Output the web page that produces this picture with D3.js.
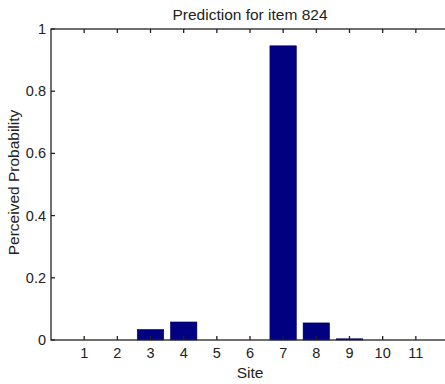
<!DOCTYPE html>
<html><head><meta charset="utf-8">
<script src="https://cdn.jsdelivr.net/npm/d3@7"></script>
<style>body{margin:0;background:#fff}svg{display:block}</style>
</head><body>
<script>
const sites = [1,2,3,4,5,6,7,8,9,10,11];
const probs = [0,0,0.034,0.058,0,0,0.946,0.055,0.004,0,0];
const yTicks = [0,0.2,0.4,0.6,0.8,1];
const yTickLabels = ["0","0.2","0.4","0.6","0.8","1"];
const title = "Prediction for item 824";

const W=445,H=384;
const L=51,R=449,T=29,B=340;
const svg=d3.select("body").append("svg").attr("width",W).attr("height",H);
const x=d3.scaleLinear().domain([0,12]).range([L,R]);
const y=d3.scaleLinear().domain([0,1]).range([B,T]);
const font="Liberation Sans, Arial, sans-serif";
const bw=(x(1)-x(0))*0.8;

svg.append("g").selectAll("rect").data(sites.filter((d,i)=>probs[i]>0)).join("rect")
 .attr("x",d=>x(d)-bw/2).attr("width",bw)
 .attr("y",d=>y(probs[d-1])).attr("height",d=>y(0)-y(probs[d-1]))
 .attr("fill","#000080").attr("stroke","#00005a").attr("stroke-width",0.5);

const ax=svg.append("g").attr("fill","none").attr("stroke","#222").attr("stroke-width",1.3);
ax.append("rect").attr("x",L).attr("y",T).attr("width",R-L).attr("height",B-T);
const tl=4;
sites.forEach(s=>{
  ax.append("line").attr("x1",x(s)).attr("x2",x(s)).attr("y1",B).attr("y2",B-tl);
  ax.append("line").attr("x1",x(s)).attr("x2",x(s)).attr("y1",T).attr("y2",T+tl);
});
yTicks.forEach(v=>{
  ax.append("line").attr("x1",L).attr("x2",L+tl).attr("y1",y(v)).attr("y2",y(v));
  ax.append("line").attr("x1",R).attr("x2",R-tl).attr("y1",y(v)).attr("y2",y(v));
});

svg.append("g").selectAll("text").data(sites).join("text")
 .attr("x",d=>x(d)).attr("y",B+18).attr("text-anchor","middle")
 .attr("font-family",font).attr("font-size",14.5).attr("fill","#222").text(d=>d);
svg.append("g").selectAll("text").data(yTicks).join("text")
 .attr("x",L-5).attr("y",d=>y(d)+5).attr("text-anchor","end")
 .attr("font-family",font).attr("font-size",14.5).attr("fill","#222").text((d,i)=>yTickLabels[i]);

svg.append("text").attr("x",(L+R)/2).attr("y",20).attr("text-anchor","middle")
 .attr("font-family",font).attr("font-size",15.5).attr("fill","#222").text(title);
svg.append("text").attr("x",250).attr("y",378).attr("text-anchor","middle")
 .attr("font-family",font).attr("font-size",15.5).attr("fill","#222").text("Site");
svg.append("text").attr("transform",`translate(19,182.5) rotate(-90)`).attr("text-anchor","middle")
 .attr("font-family",font).attr("font-size",15.5).attr("fill","#222").text("Perceived Probability");
</script>
</body></html>
